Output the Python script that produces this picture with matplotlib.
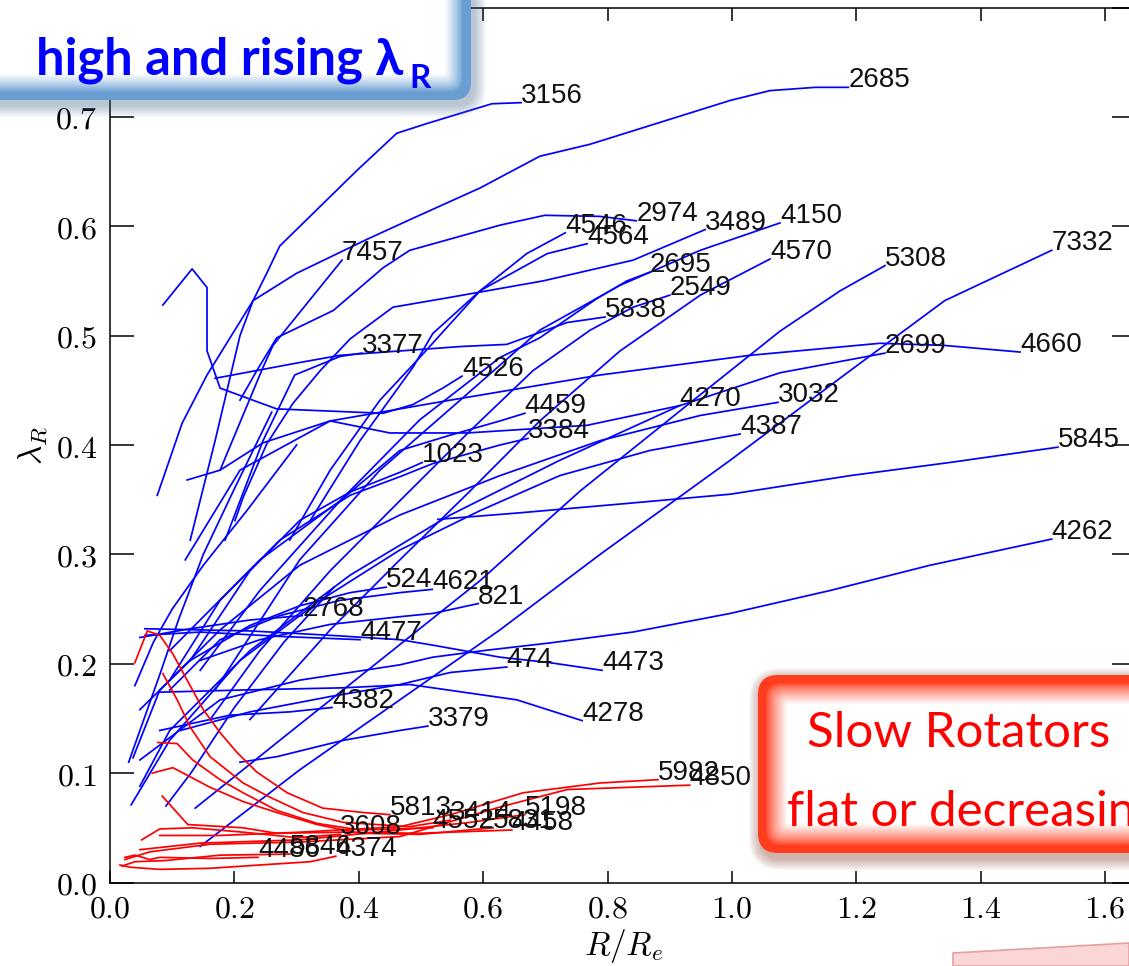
import matplotlib
matplotlib.use('Agg')
import matplotlib.pyplot as plt
from matplotlib.patches import FancyBboxPatch, Polygon
from matplotlib.transforms import IdentityTransform
from matplotlib.colors import to_rgb
from matplotlib.ticker import FuncFormatter, MultipleLocator

plt.rcParams['mathtext.fontset'] = 'cm'

# --- fast rotators (blue): galaxy id, R/Re, lambda_R ---
blue_labels = ['3156', '2685', '7457', '4546', '4564', '2974', '3489', '4150',
               '2695', '2549', '5838', '3377', '4570', '5308', '7332', '4660',
               '2699', '4526', '4459', '3384', '4270', '3032', '4387', '1023',
               '5845', '4262', '524', '4621', '821', '2768', '4477', '4473',
               '474', '4382', '3379', '4278', '', '', '']
blue_x = [
    [0.129, 0.169, 0.209, 0.230, 0.252, 0.273, 0.397, 0.461, 0.510, 0.614, 0.661],
    [0.076, 0.116, 0.156, 0.230, 0.300, 0.413, 0.482, 0.595, 0.691, 0.772, 0.997, 1.061, 1.134, 1.187],
    [0.177, 0.246, 0.262, 0.373],
    [0.289, 0.354, 0.434, 0.498, 0.595, 0.670, 0.732],
    [0.322, 0.402, 0.487, 0.519, 0.595, 0.703, 0.767],
    [0.209, 0.236, 0.268, 0.359, 0.439, 0.482, 0.627, 0.699, 0.788, 0.846],
    [0.201, 0.214, 0.252, 0.294, 0.338, 0.386, 0.455, 0.547, 0.696, 0.841, 0.957],
    [0.169, 0.305, 0.434, 0.563, 0.691, 0.820, 0.949, 1.077],
    [0.145, 0.241, 0.370, 0.498, 0.627, 0.691, 0.783, 0.831, 0.868],
    [0.161, 0.241, 0.354, 0.466, 0.579, 0.680, 0.772, 0.841, 0.900],
    [0.169, 0.301, 0.370, 0.563, 0.638, 0.735, 0.796],
    [0.185, 0.246, 0.297, 0.370, 0.405],
    [0.225, 0.354, 0.466, 0.579, 0.691, 0.820, 0.949, 1.061],
    [0.137, 0.273, 0.434, 0.595, 0.756, 0.916, 1.077, 1.174, 1.246],
    [0.145, 0.305, 0.466, 0.627, 0.788, 0.997, 1.190, 1.342, 1.514],
    [0.121, 0.209, 0.354, 0.547, 0.788, 1.029, 1.238, 1.342, 1.463],
    [0.048, 0.096, 0.225, 0.386, 0.547, 0.723, 0.916, 1.077, 1.246],
    [0.085, 0.132, 0.156, 0.156, 0.177, 0.268, 0.439, 0.487, 0.535, 0.566],
    [0.096, 0.241, 0.370, 0.466, 0.547, 0.627, 0.667],
    [0.096, 0.177, 0.273, 0.386, 0.466, 0.519, 0.627, 0.672],
    [0.124, 0.177, 0.246, 0.354, 0.450, 0.574, 0.767, 0.916],
    [0.037, 0.080, 0.177, 0.305, 0.466, 0.627, 0.788, 0.949, 1.074],
    [0.034, 0.096, 0.209, 0.338, 0.466, 0.595, 0.723, 0.868, 1.013],
    [0.129, 0.225, 0.305, 0.386, 0.466, 0.502],
    [0.527, 0.659, 0.820, 0.997, 1.190, 1.350, 1.524],
    [0.048, 0.177, 0.305, 0.466, 0.519, 0.600, 0.707, 0.841, 0.997, 1.158, 1.318, 1.514],
    [0.048, 0.129, 0.225, 0.305, 0.386, 0.444],
    [0.096, 0.177, 0.273, 0.370, 0.466, 0.518],
    [0.145, 0.241, 0.354, 0.466, 0.519, 0.592],
    [0.048, 0.129, 0.225, 0.309],
    [0.056, 0.145, 0.273, 0.402],
    [0.056, 0.225, 0.354, 0.466, 0.519, 0.627, 0.707, 0.791],
    [0.113, 0.225, 0.354, 0.466, 0.547, 0.638],
    [0.080, 0.193, 0.289, 0.357],
    [0.209, 0.268, 0.375, 0.466, 0.511],
    [0.080, 0.214, 0.375, 0.482, 0.654, 0.759],
    [0.030, 0.080, 0.110, 0.150, 0.200, 0.260],
    [0.040, 0.070, 0.100, 0.150, 0.220, 0.300],
    [0.090, 0.130, 0.200, 0.280, 0.360],
]
blue_y = [
    [0.313, 0.404, 0.500, 0.532, 0.557, 0.582, 0.651, 0.685, 0.694, 0.712, 0.713],
    [0.354, 0.420, 0.464, 0.532, 0.557, 0.588, 0.606, 0.635, 0.664, 0.675, 0.715, 0.724, 0.727, 0.727],
    [0.377, 0.471, 0.491, 0.569],
    [0.313, 0.377, 0.441, 0.480, 0.541, 0.575, 0.594],
    [0.331, 0.404, 0.471, 0.502, 0.541, 0.575, 0.584],
    [0.441, 0.468, 0.498, 0.523, 0.562, 0.578, 0.601, 0.610, 0.609, 0.605],
    [0.331, 0.352, 0.401, 0.438, 0.468, 0.497, 0.526, 0.535, 0.550, 0.569, 0.597],
    [0.176, 0.295, 0.377, 0.441, 0.505, 0.546, 0.578, 0.603],
    [0.194, 0.267, 0.349, 0.423, 0.480, 0.498, 0.534, 0.550, 0.558],
    [0.149, 0.212, 0.285, 0.349, 0.413, 0.468, 0.505, 0.526, 0.537],
    [0.461, 0.475, 0.482, 0.490, 0.492, 0.512, 0.517],
    [0.313, 0.404, 0.464, 0.481, 0.484],
    [0.149, 0.231, 0.295, 0.358, 0.422, 0.486, 0.537, 0.570],
    [0.068, 0.130, 0.203, 0.276, 0.358, 0.431, 0.504, 0.541, 0.564],
    [0.033, 0.103, 0.167, 0.231, 0.300, 0.386, 0.468, 0.532, 0.578],
    [0.295, 0.377, 0.422, 0.441, 0.464, 0.482, 0.493, 0.491, 0.485],
    [0.088, 0.139, 0.212, 0.281, 0.336, 0.386, 0.436, 0.466, 0.484],
    [0.528, 0.561, 0.544, 0.486, 0.452, 0.433, 0.429, 0.437, 0.452, 0.463],
    [0.212, 0.295, 0.349, 0.395, 0.409, 0.422, 0.429],
    [0.185, 0.258, 0.313, 0.354, 0.371, 0.383, 0.400, 0.406],
    [0.368, 0.377, 0.402, 0.422, 0.411, 0.411, 0.418, 0.436],
    [0.114, 0.176, 0.231, 0.290, 0.336, 0.372, 0.404, 0.427, 0.439],
    [0.071, 0.130, 0.203, 0.258, 0.304, 0.340, 0.372, 0.395, 0.410],
    [0.203, 0.285, 0.331, 0.357, 0.375, 0.384],
    [0.332, 0.338, 0.346, 0.355, 0.372, 0.384, 0.398],
    [0.112, 0.167, 0.185, 0.199, 0.206, 0.212, 0.219, 0.229, 0.246, 0.267, 0.290, 0.314],
    [0.158, 0.203, 0.235, 0.253, 0.265, 0.270],
    [0.176, 0.222, 0.244, 0.258, 0.265, 0.268],
    [0.203, 0.222, 0.236, 0.243, 0.246, 0.255],
    [0.224, 0.232, 0.240, 0.244],
    [0.226, 0.229, 0.225, 0.222],
    [0.232, 0.230, 0.226, 0.222, 0.217, 0.206, 0.201, 0.194],
    [0.139, 0.156, 0.170, 0.181, 0.192, 0.197],
    [0.139, 0.153, 0.156, 0.160],
    [0.110, 0.115, 0.130, 0.139, 0.143],
    [0.174, 0.176, 0.178, 0.181, 0.167, 0.148],
    [0.110, 0.190, 0.240, 0.300, 0.360, 0.430],
    [0.180, 0.220, 0.250, 0.290, 0.340, 0.400],
    [0.070, 0.100, 0.160, 0.220, 0.270],
]

# --- slow rotators (red) ---
red_labels = ['5813', '3414', '4552', '5831', '4458', '3608', '5982', '4850',
              '5198', '5846', '4374', '4486']
red_x = [
    [0.040, 0.060, 0.080, 0.101, 0.124, 0.150, 0.177, 0.204, 0.236, 0.285, 0.342, 0.407, 0.450],
    [0.085, 0.108, 0.129, 0.161, 0.214, 0.257, 0.310, 0.375, 0.482, 0.547],
    [0.077, 0.108, 0.133, 0.177, 0.214, 0.268, 0.333, 0.402, 0.519],
    [0.068, 0.101, 0.161, 0.214, 0.268, 0.333, 0.402, 0.498, 0.616],
    [0.084, 0.125, 0.214, 0.268, 0.375, 0.498, 0.646],
    [0.051, 0.080, 0.133, 0.214, 0.301, 0.370],
    [0.080, 0.177, 0.305, 0.466, 0.547, 0.664, 0.788, 0.881],
    [0.024, 0.064, 0.161, 0.305, 0.466, 0.627, 0.735, 0.932],
    [0.048, 0.145, 0.305, 0.466, 0.579, 0.667],
    [0.019, 0.040, 0.088, 0.177, 0.289],
    [0.016, 0.032, 0.080, 0.161, 0.241, 0.322, 0.363],
    [0.024, 0.040, 0.064, 0.080, 0.161, 0.238],
]
red_y = [
    [0.201, 0.230, 0.226, 0.209, 0.185, 0.158, 0.137, 0.119, 0.101, 0.082, 0.068, 0.064, 0.062],
    [0.191, 0.167, 0.142, 0.115, 0.091, 0.078, 0.064, 0.055, 0.051, 0.057],
    [0.128, 0.127, 0.112, 0.094, 0.082, 0.066, 0.054, 0.048, 0.050],
    [0.100, 0.105, 0.087, 0.074, 0.064, 0.053, 0.045, 0.044, 0.050],
    [0.079, 0.053, 0.050, 0.045, 0.046, 0.045, 0.048],
    [0.039, 0.049, 0.050, 0.046, 0.041, 0.044],
    [0.043, 0.043, 0.046, 0.051, 0.062, 0.082, 0.091, 0.094],
    [0.021, 0.028, 0.035, 0.037, 0.042, 0.069, 0.085, 0.089],
    [0.030, 0.036, 0.039, 0.048, 0.055, 0.062],
    [0.015, 0.019, 0.020, 0.025, 0.026],
    [0.016, 0.014, 0.012, 0.013, 0.016, 0.019, 0.024],
    [0.023, 0.025, 0.021, 0.023, 0.022, 0.023],
]

W, H = 1129, 966
fig = plt.figure(figsize=(W / 100, H / 100), dpi=100)
ax = fig.add_axes([110 / W, 83.5 / H, 1.65 * 622 / W, 875 / H])

for xs, ys, lab in zip(blue_x, blue_y, blue_labels):
    ax.plot(xs, ys, color='#0000ff', lw=1.25)
    if lab:
        ax.text(xs[-1], ys[-1], lab, fontsize=20, family='Liberation Sans',
                ha='left', va='baseline', color='#111111')
for xs, ys, lab in zip(red_x, red_y, red_labels):
    ax.plot(xs, ys, color='#ff0000', lw=1.25)
    ax.text(xs[-1], ys[-1], lab, fontsize=20, family='Liberation Sans',
            ha='left', va='baseline', color='#111111')

ax.set_xlim(0, 1.65)
ax.set_ylim(0, 0.8)
ax.xaxis.set_major_locator(MultipleLocator(0.2))
ax.yaxis.set_major_locator(MultipleLocator(0.1))
fmt = FuncFormatter(lambda v, _: f'${v:.1f}$')
ax.xaxis.set_major_formatter(fmt)
ax.yaxis.set_major_formatter(fmt)
ax.tick_params(direction='in', top=True, right=True, labelsize=23, width=1.1)
ax.tick_params(axis='x', length=9, pad=8)
ax.tick_params(axis='y', length=17, pad=9)
for s in ax.spines.values():
    s.set_linewidth(1.1)
ax.set_xlabel(r'$R/R_e$', fontsize=24, labelpad=2)
ax.set_ylabel(r'$\lambda_R$', fontsize=24, labelpad=4)


def rbox(x0, y0, x1, y1, r, color, alpha=1.0, z=10):
    # pixel coords, origin top-left
    p = FancyBboxPatch((x0, H - y1), x1 - x0, y1 - y0,
                       boxstyle=f'round,pad=0,rounding_size={r}',
                       transform=IdentityTransform(), facecolor=color,
                       edgecolor='none', alpha=alpha, zorder=z)
    fig.add_artist(p)


def glow_box(x0, y0, x1, y1, r, edge, border, glow, shadow_col):
    for i in range(12, 0, -1):
        rbox(x0 + 3 - i, y0 + 5 - i, x1 + 3 + i, y1 + 5 + i, r + i, shadow_col, alpha=0.035)
    rbox(x0, y0, x1, y1, r, edge)
    e = to_rgb(edge)
    for i in range(glow):
        t = ((i + 1) / glow) ** 0.8
        c = tuple(ec + (1 - ec) * t for ec in e)
        d = border + i
        rbox(x0 + d, y0 + d, x1 - d, y1 - d, max(r - d * 0.6, 3), c)


glow_box(-30, -30, 471, 100, 18, '#6a9ed2', 9, 18, '#4a6a90')
fig.text(36, H - 75, 'high and rising λ', transform=IdentityTransform(),
         fontsize=36.5, fontweight='bold', family=['Lato', 'DejaVu Sans'],
         color='#0000ff', ha='left', va='baseline', zorder=20)
fig.text(409, H - 88, 'R', transform=IdentityTransform(),
         fontsize=24, fontweight='bold', family=['Lato', 'DejaVu Sans'],
         color='#0000ff', ha='left', va='baseline', zorder=20)

glow_box(758, 675, 1200, 853, 20, '#ff3c1e', 8, 22, '#803020')
fig.text(807, H - 747, 'Slow Rotators', transform=IdentityTransform(),
         fontsize=35.5, family=['Lato', 'DejaVu Sans'], color='#ff0000',
         ha='left', va='baseline', zorder=20)
fig.text(787, H - 825, 'flat or decreasing', transform=IdentityTransform(),
         fontsize=35.5, family=['Lato', 'DejaVu Sans'], color='#ff0000',
         ha='left', va='baseline', zorder=20)

pink = Polygon([(953, 0), (953, H - 953), (W, H - 943), (W, 0)], closed=True,
               transform=IdentityTransform(), facecolor='#fbd6d6',
               edgecolor='#e3a0a0', lw=1.2, zorder=10)
fig.add_artist(pink)

fig.savefig('out.png', dpi=100)
